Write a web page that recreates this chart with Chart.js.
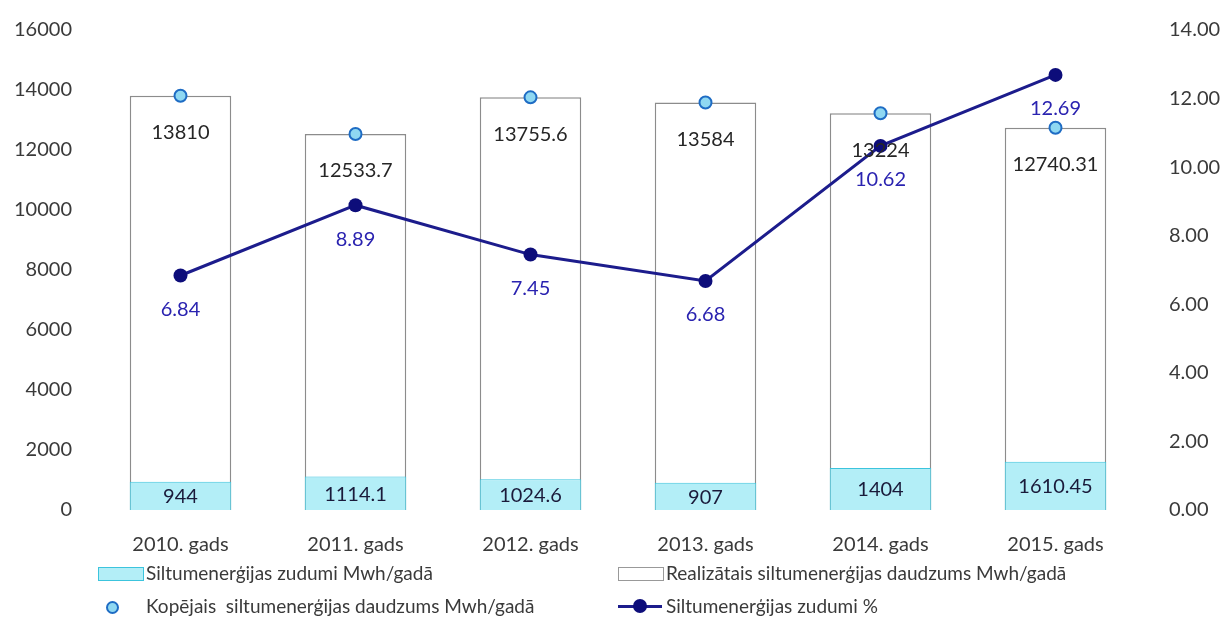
<!DOCTYPE html>
<html>
<head>
<meta charset="utf-8">
<script src="https://cdn.jsdelivr.net/npm/chart.js@4.4.1/dist/chart.umd.min.js"></script>
<style>
  html, body { margin: 0; padding: 0; background: #fff; }
  #wrap { position: relative; width: 1223px; height: 626px; }
  canvas { position: absolute; left: 0; top: 0; }
  .lg { position: absolute; font-family: Lato, sans-serif; font-size: 19px; color: #3a3a3a; white-space: nowrap; line-height: 24px; }
  .sw { position: absolute; }
</style>
</head>
<body>
<div id="wrap">
  <canvas id="chart" width="1223" height="626"></canvas>
  <div class="sw" style="left:98px;top:567px;width:44px;height:12px;background:#b3eef7;border:1px solid #3cc4dd;"></div>
  <div class="lg" style="left:146px;top:561px;">Siltumenerģijas zudumi Mwh/gadā</div>
  <div class="sw" style="left:618px;top:567px;width:44px;height:12px;background:#fff;border:1px solid #999;"></div>
  <div class="lg" style="left:666px;top:561px;">Realizātais siltumenerģijas daudzums Mwh/gadā</div>
  <div class="sw" style="left:106px;top:601px;width:9px;height:9px;border-radius:50%;background:#8fd8f2;border:2px solid #1e6cc4;"></div>
  <div class="lg" style="left:146px;top:594px;">Kopējais&nbsp; siltumenerģijas daudzums Mwh/gadā</div>
  <div class="sw" style="left:618px;top:605px;width:44px;height:3px;background:#1c1c8c;"></div>
  <div class="sw" style="left:633px;top:599px;width:14px;height:14px;border-radius:50%;background:#0d0d7a;"></div>
  <div class="lg" style="left:666px;top:594px;">Siltumenerģijas zudumi %</div>
</div>
<script>
// data
const years = ["2010. gads", "2011. gads", "2012. gads", "2013. gads", "2014. gads", "2015. gads"];
const lossesMwh = [944, 1114.1, 1024.6, 907, 1404, 1610.45];
const realizedMwh = [13810, 12533.7, 13755.6, 13584, 13224, 12740.31];
const totalMwh = [13810, 12533.7, 13755.6, 13584, 13224, 12740.31];
const lossPct = [6.84, 8.89, 7.45, 6.68, 10.62, 12.69];
const leftTicks = [0, 2000, 4000, 6000, 8000, 10000, 12000, 14000, 16000];
const rightTicks = [0, 2, 4, 6, 8, 10, 12, 14];

const FONT = "Lato, sans-serif";

// value labels (no datalabels plugin available offline)
const labelPlugin = {
  id: "valueLabels",
  afterDatasetsDraw(chart) {
    const ctx = chart.ctx;
    ctx.save();
    ctx.font = "20px " + FONT;
    ctx.textAlign = "center";
    ctx.textBaseline = "middle";
    // realized: just below bar top
    chart.getDatasetMeta(3).data.forEach((bar, i) => {
      ctx.fillStyle = "#262626";
      ctx.fillText(String(realizedMwh[i]), bar.x, bar.y + 37);
    });
    // losses: centered in bar
    chart.getDatasetMeta(2).data.forEach((bar, i) => {
      ctx.fillStyle = "#1a1a3a";
      ctx.fillText(String(lossesMwh[i]), bar.x, (bar.y + bar.base) / 2 + 1);
    });
    // percent below points
    chart.getDatasetMeta(0).data.forEach((pt, i) => {
      ctx.fillStyle = "#2a23b0";
      ctx.fillText(lossPct[i].toFixed(2), pt.x, pt.y + 34);
    });
    ctx.restore();
  }
};

new Chart(document.getElementById("chart"), {
  data: {
    labels: years,
    datasets: [
      {
        type: "line",
        label: "Siltumenerģijas zudumi %",
        data: lossPct,
        yAxisID: "y2",
        borderColor: "#1c1c8c",
        backgroundColor: "#0d0d7a",
        borderWidth: 3,
        pointRadius: 7,
        pointBorderWidth: 0,
        tension: 0
      },
      {
        type: "line",
        label: "Kopējais  siltumenerģijas daudzums Mwh/gadā",
        data: totalMwh,
        yAxisID: "y",
        showLine: false,
        backgroundColor: "#8fd8f2",
        borderColor: "#1e6cc4",
        pointRadius: 6,
        pointBorderWidth: 2
      },
      {
        type: "bar",
        label: "Siltumenerģijas zudumi Mwh/gadā",
        data: lossesMwh,
        yAxisID: "y",
        backgroundColor: "#b3eef7",
        borderColor: "#3cc4dd",
        borderWidth: 1,
        barPercentage: 0.58,
        categoryPercentage: 1
      },
      {
        type: "bar",
        label: "Realizātais siltumenerģijas daudzums Mwh/gadā",
        data: realizedMwh,
        yAxisID: "y",
        backgroundColor: "#ffffff",
        borderColor: "#8c8c8c",
        borderWidth: 1.5,
        barPercentage: 0.58,
        categoryPercentage: 1
      }
    ]
  },
  options: {
    responsive: false,
    animation: false,
    layout: { padding: { top: 18, bottom: 66, left: 0, right: 0 } },
    plugins: { legend: { display: false }, tooltip: { enabled: false } },
    scales: {
      x: {
        stacked: true,
        grid: { display: false },
        border: { display: false },
        ticks: { color: "#3a3a3a", font: { family: FONT, size: 20 }, padding: 15 },
        afterFit(scale) { scale.height = 50; }
      },
      y: {
        position: "left",
        stacked: false,
        min: 0, max: 16000,
        afterBuildTicks(scale) { scale.ticks = leftTicks.map(v => ({ value: v })); },
        grid: { display: false },
        border: { display: false },
        ticks: { color: "#3a3a3a", font: { family: FONT, size: 20 }, padding: 13,
          callback: v => String(v) },
        afterFit(scale) { scale.width = 93; }
      },
      y2: {
        position: "right",
        min: 0, max: 14,
        afterBuildTicks(scale) { scale.ticks = rightTicks.map(v => ({ value: v })); },
        grid: { display: false },
        border: { display: false },
        ticks: { color: "#3a3a3a", font: { family: FONT, size: 20 }, padding: 18,
          callback: v => Number(v).toFixed(2) },
        afterFit(scale) { scale.width = 80; }
      }
    }
  },
  plugins: [labelPlugin]
});
</script>
</body>
</html>
